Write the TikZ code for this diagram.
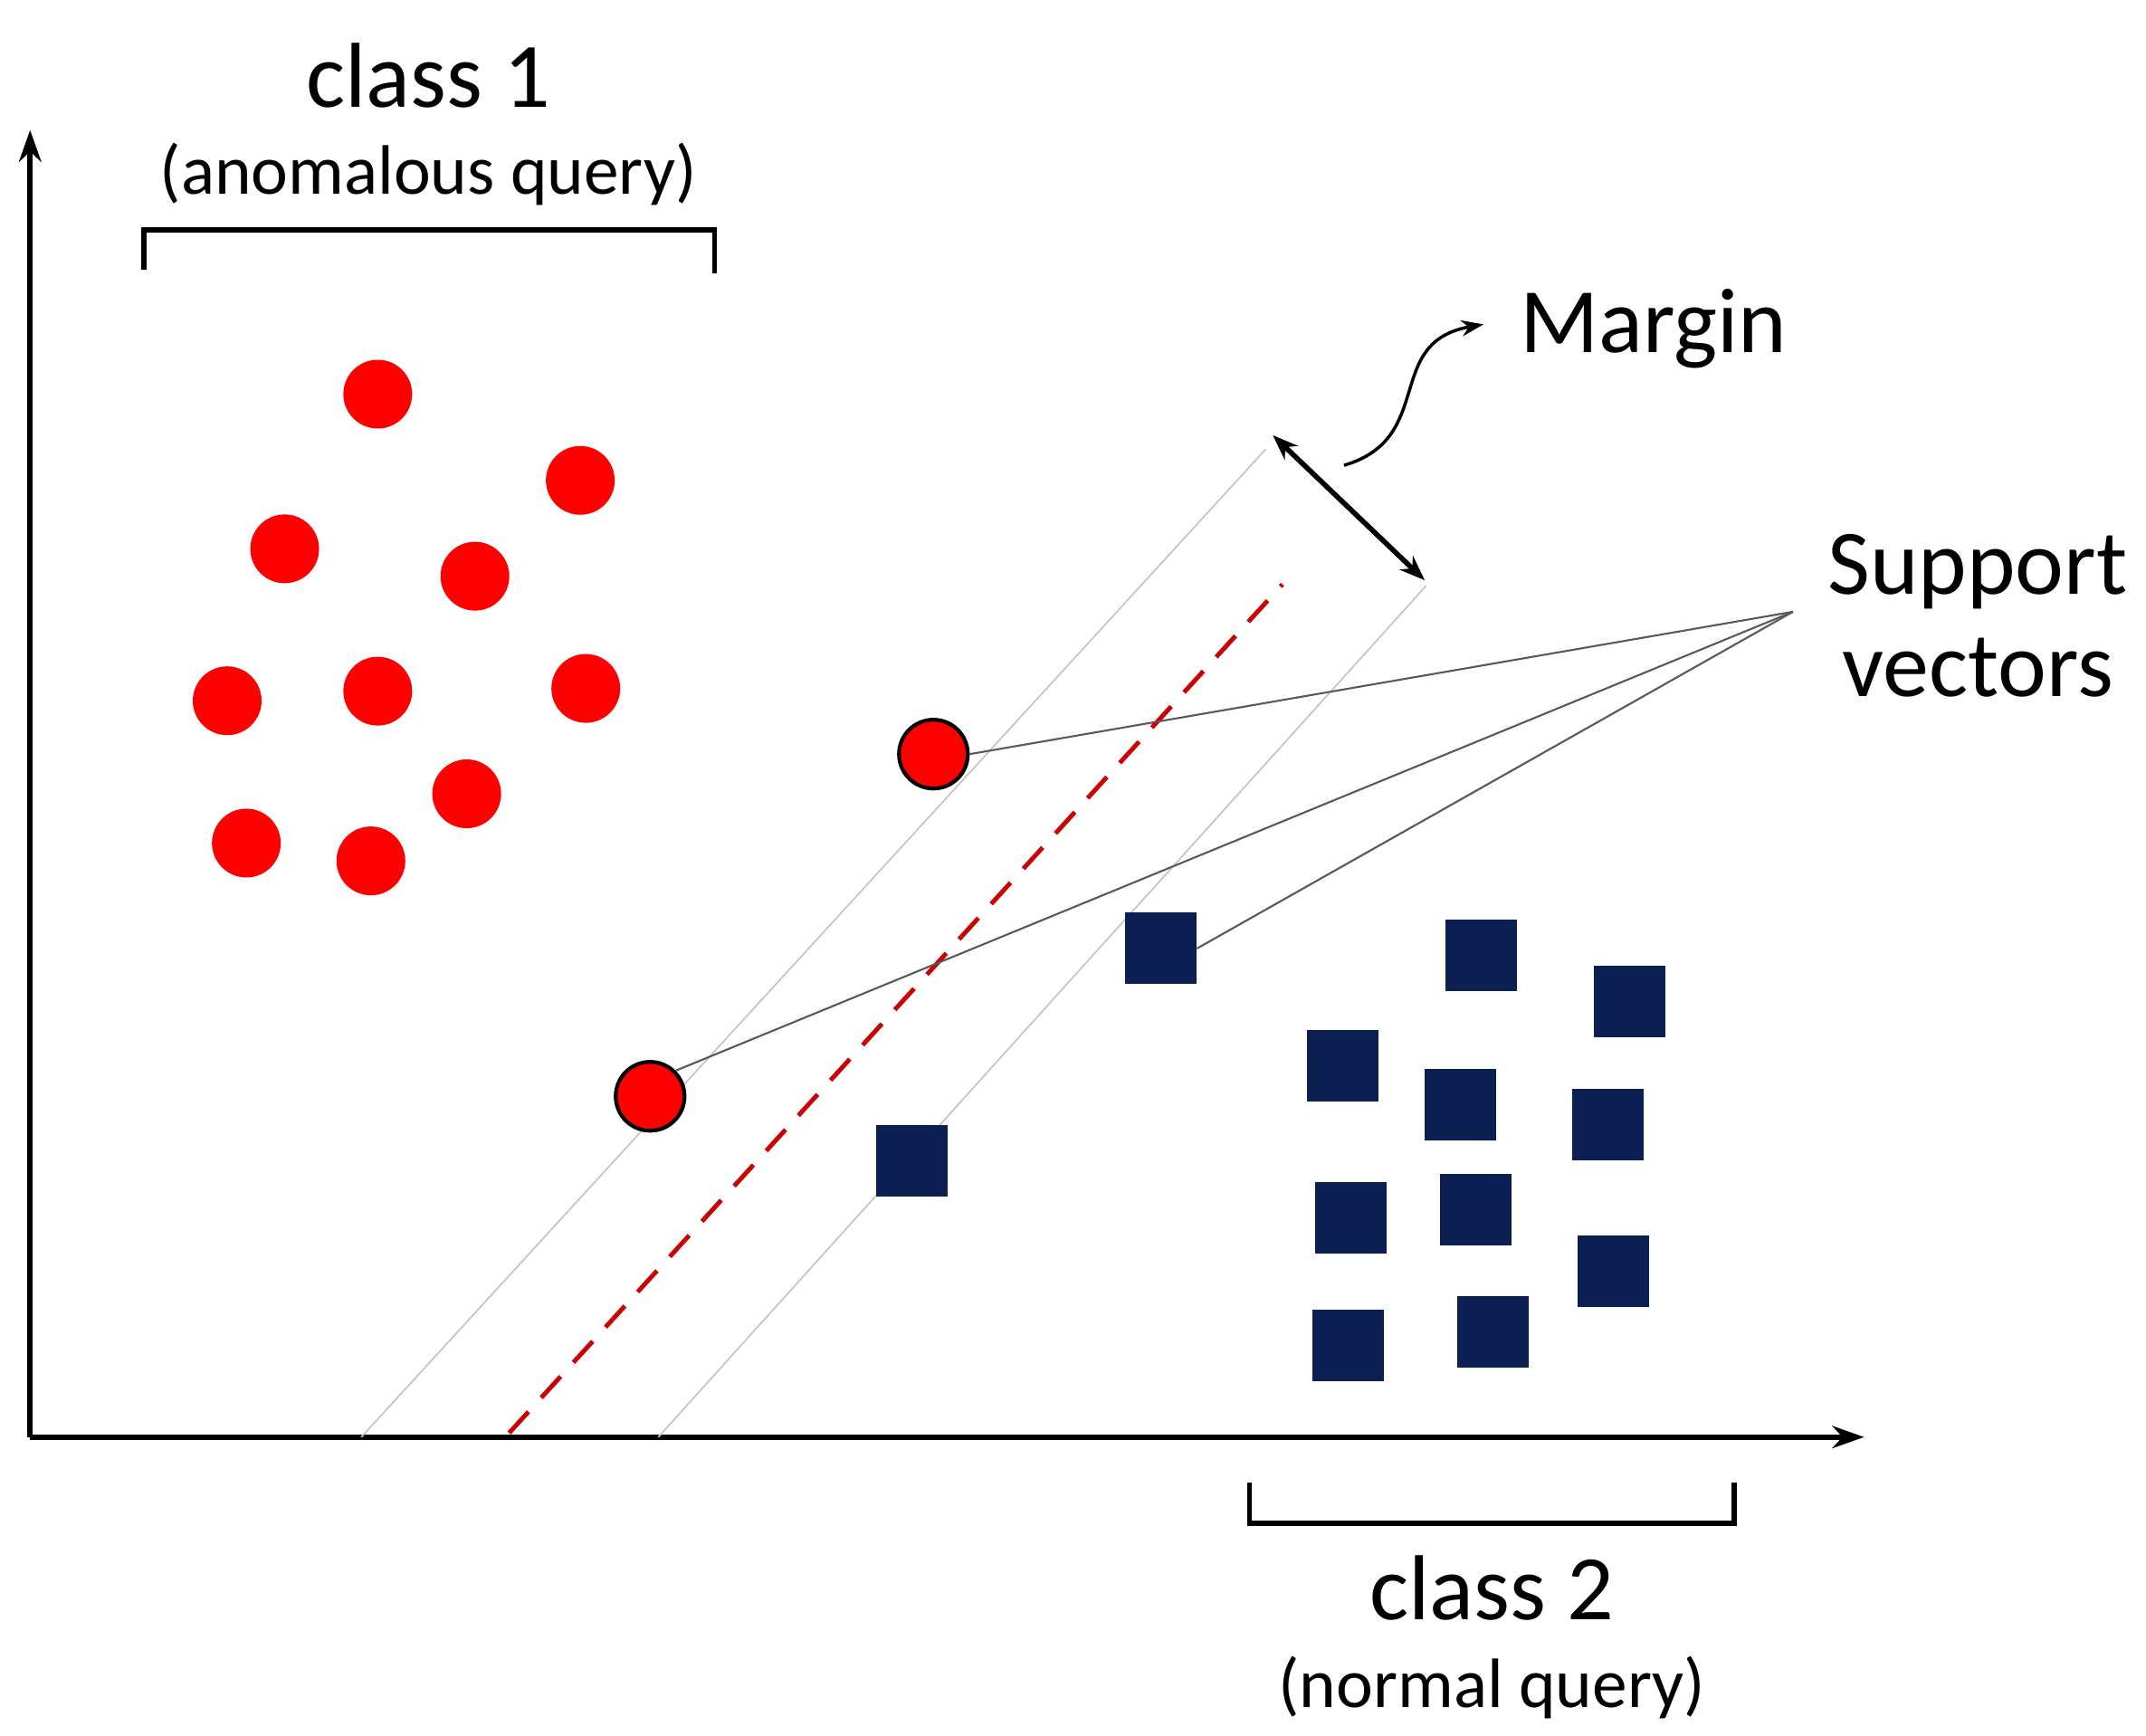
\documentclass[tikz,border=0pt]{standalone}
\usepackage{fontspec}
\setmainfont{Carlito}
\usetikzlibrary{arrows.meta}
\definecolor{navy}{HTML}{0C1F52}
\begin{document}
\begin{tikzpicture}[x=0.01512cm,y=-0.01512cm,
  red pt/.style={circle,fill=red,minimum size=0.76cm,inner sep=0},
  sv pt/.style={circle,fill=red,draw=black,line width=1.2pt,minimum size=0.76cm,inner sep=0},
  sq/.style={rectangle,fill=navy,minimum size=0.79cm,inner sep=0},
  big/.style={font=\fontsize{29}{32}\selectfont},
  small/.style={font=\fontsize{22}{26}\selectfont},
  gl/.style={draw=gray!45,line width=0.5pt},
  ax/.style={line width=1.6pt,-{Stealth[length=10pt,width=7pt]}}]
\useasboundingbox (0,0) rectangle (1568,1268);
\coordinate (O) at (22,1050);
\coordinate (Y) at (22,95);
\coordinate (X) at (1362,1050);
\draw[ax] (O) -- (Y);
\draw[ax] (O) -- (X);
% margin lines
\coordinate (l1a) at (264,1050); \coordinate (l1b) at (925,328);
\coordinate (l2a) at (481,1050); \coordinate (l2b) at (1042,428);
\coordinate (da) at (372,1047); \coordinate (db) at (937,427);
\draw[gl] (l1a) -- (l1b);
\draw[gl] (l2a) -- (l2b);
\draw[red!80!black,line width=1.4pt,dash pattern=on 9pt off 6pt] (da) -- (db);
% red points
\foreach \p [count=\i] in {(276,288),(424,351),(208,401),(347,421),(166,512),(276,505),(428,503),(341,580),(180,616),(271,629)}
  \node[red pt] (r\i) at \p {};
% squares
\foreach \p [count=\i] in {(666,848),(1082,698),(1191,732),(981,779),(1067,807),(1175,822),(987,890),(1078,884),(1179,929),(985,983),(1091,973)}
  \node[sq] (s\i) at \p {};
\node[sq] (sv3) at (848,693) {};
\node[sv pt] (sv1) at (682,551) {};
\node[sv pt] (sv2) at (475,801) {};
% labels
\node[big] (c1) at (313,55) {class 1};
\node[small] (c1s) at (313,127) {(anomalous query)};
\node[big] (c2) at (1090,1160) {class 2};
\node[small] (c2s) at (1090,1233) {(normal query)};
\node[big] (mg) at (1208,240) {Margin};
\node[big,align=center] (sv) at (1445,450) {Support\\vectors};
\coordinate (svp) at (1310,447);
\draw[gray!70!black,line width=0.6pt] (svp) -- (sv1.east);
\draw[gray!70!black,line width=0.6pt] (svp) -- (sv2.north east);
\draw[gray!70!black,line width=0.6pt] (svp) -- (sv3.east);
% brackets
\draw[line width=1.6pt] (105,197) -- (105,168) -- (522,168) -- (522,200);
\draw[line width=1.6pt] (913,1083) -- (913,1113) -- (1267,1113) -- (1267,1083);
% margin arrow
\coordinate (ma) at (930,318); \coordinate (mb) at (1041,424);
\draw[line width=1.6pt,{Stealth[length=8pt,width=6pt]}-{Stealth[length=8pt,width=6pt]}] (ma) -- (mb);
\coordinate (ca) at (982,340); \coordinate (cb) at (1084,237);
\draw[line width=1pt,-{Stealth[length=7pt,width=5pt]}] (ca) .. controls (1050,320) and (1010,250) .. (cb);
\end{tikzpicture}
\end{document}
